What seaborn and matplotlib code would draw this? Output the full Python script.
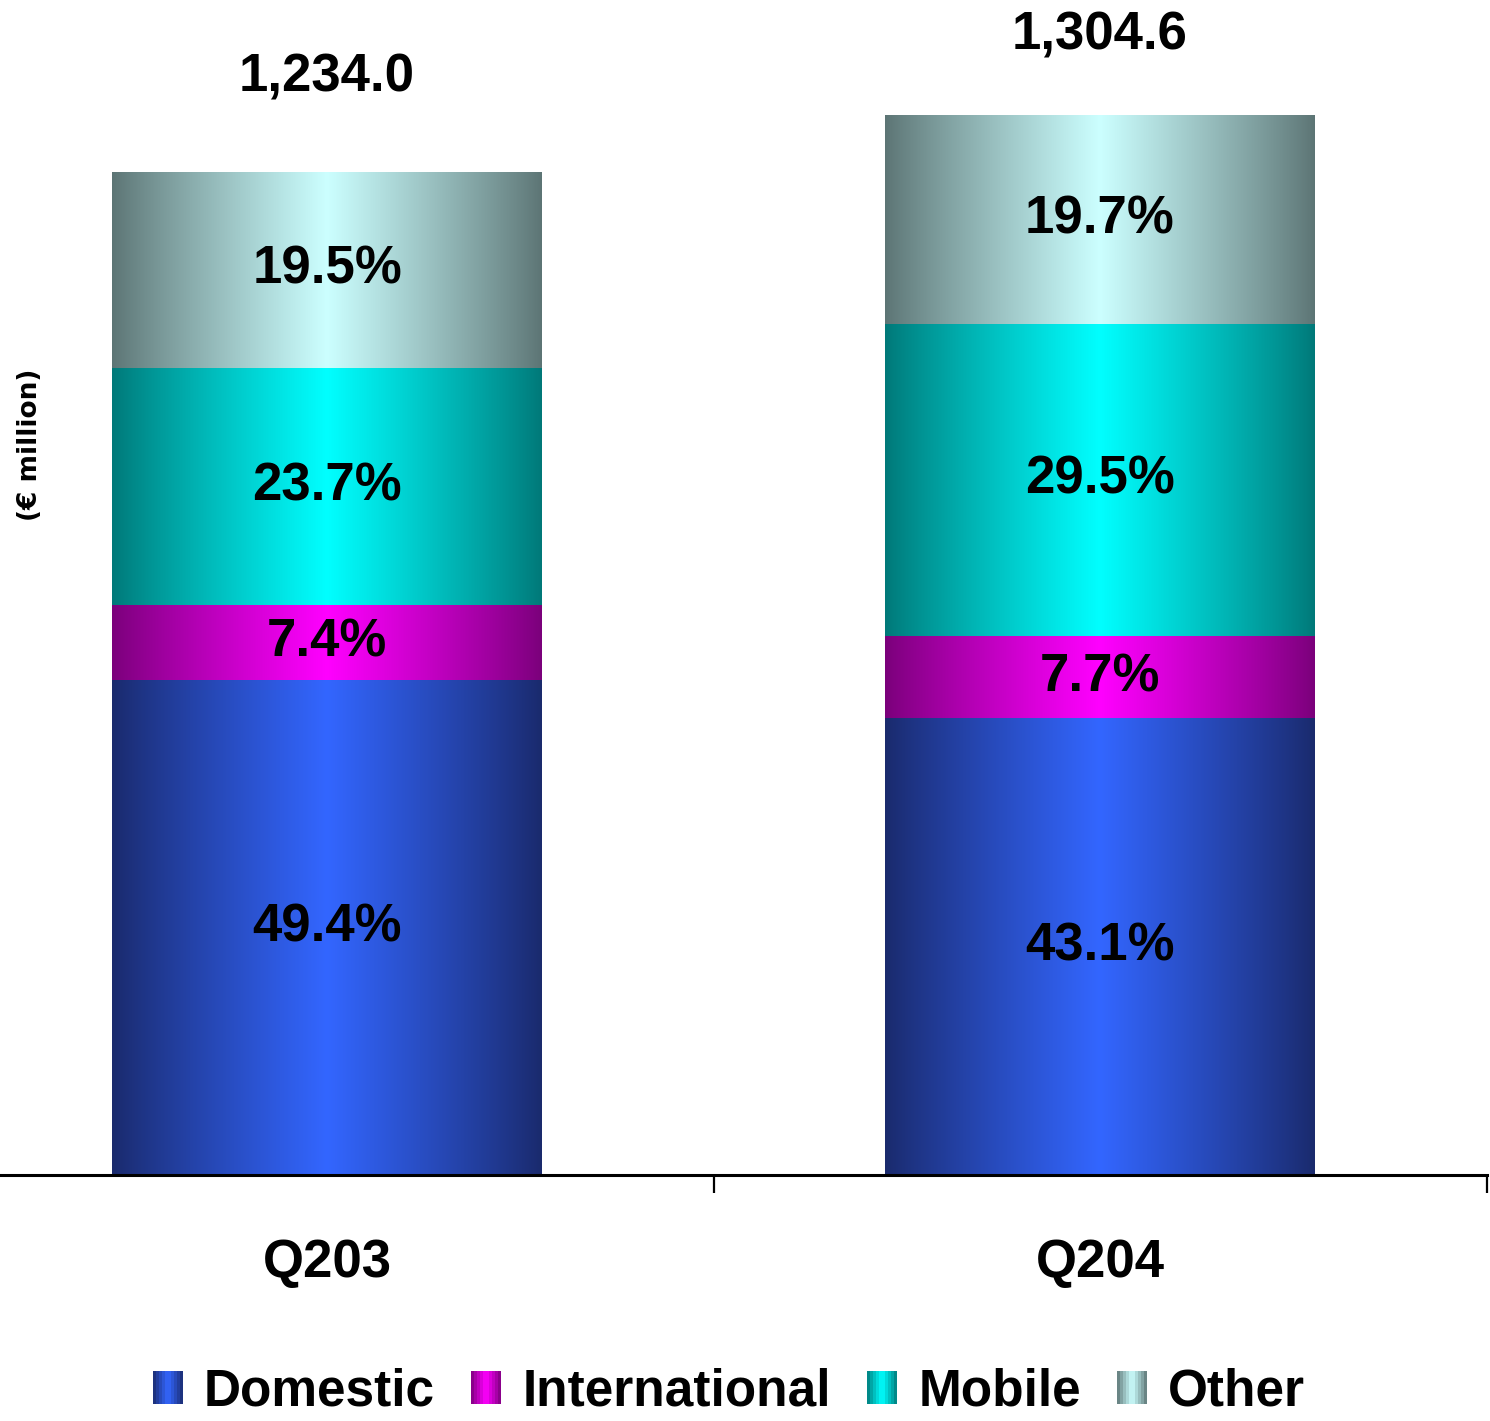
import numpy as np
import pandas as pd
import matplotlib
matplotlib.use("Agg")
import matplotlib.pyplot as plt
import matplotlib.transforms as mtransforms
from matplotlib.colors import to_rgb
from matplotlib.patches import Rectangle
from matplotlib.legend_handler import HandlerBase
import seaborn as sns

# ---- data -------------------------------------------------------------
quarters = ["Q203", "Q204"]
totals = [1234.0, 1304.6]
segments = ["Domestic", "International", "Mobile", "Other"]
share_domestic = [49.4, 43.1]
share_international = [7.4, 7.7]
share_mobile = [23.7, 29.5]
share_other = [19.5, 19.7]

shares = {
    "Domestic": share_domestic,
    "International": share_international,
    "Mobile": share_mobile,
    "Other": share_other,
}

# (edge colour, centre colour) of the horizontal metallic gradient
shades = {
    "Domestic": ("#1a2a6c", "#3366ff"),
    "International": ("#7a007a", "#ff00ff"),
    "Mobile": ("#007878", "#00ffff"),
    "Other": ("#5c7474", "#ccffff"),
}

rows = []
for seg in segments:
    for q, tot, s in zip(quarters, totals, shares[seg]):
        rows.append({"quarter": q, "segment": seg, "share": s, "value": tot * s / 100.0})
df = pd.DataFrame(rows)


def gradient_colors(edge, centre, n):
    e = np.array(to_rgb(edge))
    c = np.array(to_rgb(centre))
    t = (np.arange(n) + 0.5) / n
    w = 1.0 - np.abs(2 * t - 1)
    w = w ** 0.9
    return e[None, :] + (c - e)[None, :] * w[:, None]


# ---- figure -----------------------------------------------------------
sns.set_theme(style="white")
plt.rcParams["font.family"] = ["Liberation Sans", "DejaVu Sans"]
plt.rcParams["text.color"] = "black"

W, H = 1490, 1421
fig = plt.figure(figsize=(W / 100, H / 100), dpi=100)
# axis spans one category width on each side of the bar centres
ax_left_px, ax_right_px = -59.5, 1486.5
ax = fig.add_axes([ax_left_px / W, 1 - 1175 / H, (ax_right_px - ax_left_px) / W, 1175 / H])

bar_width = 0.555
bottoms = np.zeros(len(quarters))
segment_patches = {}
for seg in segments:
    sub = df[df["segment"] == seg]
    n0 = len(ax.patches)
    sns.barplot(data=sub, x="quarter", y="value", order=quarters, ax=ax,
                color=shades[seg][1], width=bar_width, bottom=bottoms.copy(),
                errorbar=None, linewidth=0, saturation=1)
    segment_patches[seg] = ax.patches[n0:]
    # centred share labels
    for i, q in enumerate(quarters):
        val = sub.loc[sub["quarter"] == q, "value"].iloc[0]
        s = sub.loc[sub["quarter"] == q, "share"].iloc[0]
        ax.text(i, bottoms[i] + val / 2, f"{s:.1f}%", ha="center", va="center",
                fontsize=38, fontweight="bold", color="black", zorder=5)
    bottoms = bottoms + sub.set_index("quarter").loc[quarters, "value"].to_numpy()

# paint each bar with its gradient
for seg in segments:
    cols = gradient_colors(*shades[seg], 256)
    img = cols[None, :, :]
    for p in segment_patches[seg]:
        x, y = p.get_x(), p.get_y()
        w, h = p.get_width(), p.get_height()
        ax.imshow(img, extent=[x, x + w, y, y + h], aspect="auto",
                  interpolation="bilinear", zorder=p.get_zorder() + 0.1)

ax.set_xlim(-0.5, 1.5)
ax.set_ylim(0, 1175 / (1003 / 1234.0))

# totals above the bars
label_gap_px = [94, 79]
for i, (tot, gap) in enumerate(zip(totals, label_gap_px)):
    tr = mtransforms.offset_copy(ax.transData, fig=fig, x=0, y=gap, units="dots")
    ax.text(i, tot, f"{tot:,.1f}", ha="center", va="center", transform=tr,
            fontsize=38, fontweight="bold", color="black")

# axes styling
for side in ["left", "right", "top"]:
    ax.spines[side].set_visible(False)
ax.spines["bottom"].set_color("black")
ax.spines["bottom"].set_linewidth(2.2)
ax.set_yticks([])
ax.set_xticks(range(len(quarters)))
ax.set_xticklabels(quarters, fontsize=38, fontweight="bold", color="black")
ax.tick_params(axis="x", which="major", length=0, pad=45)
ax.set_xticks([-0.5, 0.5, 1.5], minor=True)
ax.tick_params(axis="x", which="minor", length=13, width=1.6, color="black",
               direction="out", bottom=True)
ax.set_xlabel("")
ax.set_ylabel("")
ax.set_facecolor("white")

fig.text(30 / W, 1 - 445 / H, "(€ million)", rotation=90, ha="center",
         va="center", fontsize=19, fontweight="bold", family="DejaVu Sans",
         color="black")


# legend with gradient swatches
class GradientHandler(HandlerBase):
    def __init__(self, edge, centre, n=10):
        super().__init__()
        self.cols = gradient_colors(edge, centre, n)

    def create_artists(self, legend, orig_handle, xdescent, ydescent,
                       width, height, fontsize, trans):
        n = len(self.cols)
        out = []
        for k, c in enumerate(self.cols):
            r = Rectangle((-xdescent + k * width / n, -ydescent), width / n, height,
                          facecolor=c, edgecolor="none", linewidth=0, transform=trans)
            out.append(r)
        return out


proxies = [Rectangle((0, 0), 1, 1) for _ in segments]
hmap = {p: GradientHandler(*shades[s]) for p, s in zip(proxies, segments)}
leg = fig.legend(proxies, segments, handler_map=hmap, loc="center",
                 bbox_to_anchor=(729 / W, 1 - 1392 / H), ncol=4, frameon=False,
                 prop={"size": 37, "weight": "bold"}, handlelength=0.58,
                 handleheight=0.6, handletextpad=0.42, columnspacing=0.7,
                 borderpad=0, borderaxespad=0)
for t in leg.get_texts():
    t.set_color("black")

fig.savefig("out.png", dpi=100, facecolor="white")
